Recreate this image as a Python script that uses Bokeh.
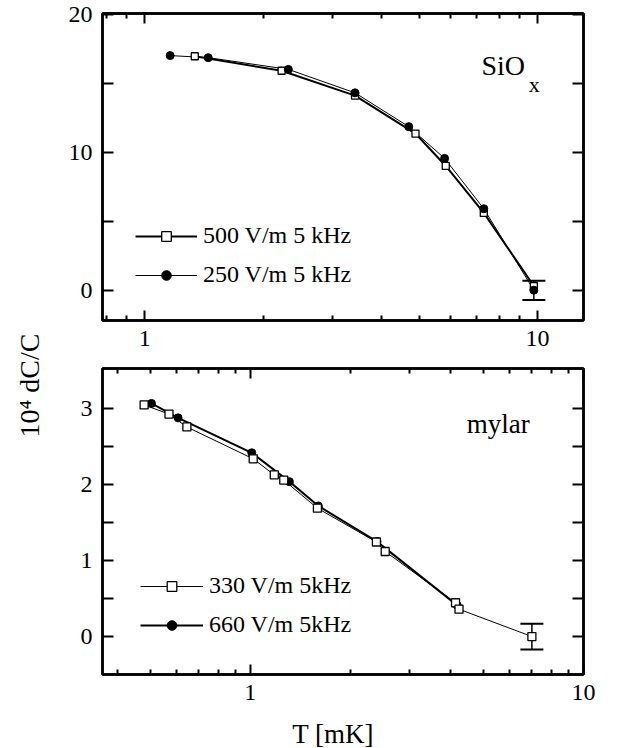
import math
from bokeh.plotting import figure
from bokeh.models import (Range1d, LogAxis, LinearAxis, FixedTicker, CustomJSTickFormatter,
                          Legend, LegendItem, Whisker, TeeHead, ColumnDataSource, Label)
from bokeh.layouts import row, column
from bokeh.embed import file_html
from bokeh.resources import INLINE

# ---------------- data ----------------
# SiOx panel
sio_500_T = [1.34, 2.23, 3.43, 4.89, 5.84, 7.30, 9.79]
sio_500_y = [16.95, 15.9, 14.1, 11.35, 9.0, 5.6, 0.3]
sio_250_T = [1.16, 1.45, 2.32, 3.43, 4.70, 5.80, 7.30, 9.79]
sio_250_y = [17.0, 16.85, 16.0, 14.3, 11.85, 9.55, 5.9, 0.0]
sio_err_T = [9.79]
sio_err_lo = [-0.72]
sio_err_hi = [0.68]

# mylar panel
my_330_T = [0.48, 0.57, 0.645, 1.02, 1.18, 1.26, 1.59, 2.39, 2.54, 4.13, 4.23, 7.0]
my_330_y = [3.05, 2.93, 2.76, 2.34, 2.13, 2.06, 1.69, 1.245, 1.12, 0.445, 0.36, 0.0]
my_660_T = [0.505, 0.607, 1.01, 1.31, 1.60, 2.40, 4.18]
my_660_y = [3.07, 2.88, 2.42, 2.04, 1.72, 1.25, 0.41]
my_err_T = [7.0]
my_err_lo = [-0.17]
my_err_hi = [0.17]

top_yticks = [0, 5, 10, 15, 20]
bot_yticks = [0, 0.5, 1, 1.5, 2, 2.5, 3]
top_xminor = [0.8, 0.9, 2, 3, 4, 5, 6, 7, 8, 9]
bot_xminor = [0.4, 0.5, 0.6, 0.7, 0.8, 0.9, 2, 3, 4, 5, 6, 7, 8, 9]
xmajor = [1, 10]

FONT = "Liberation Serif"
W_LAB = 55
W_FIG = 641 - W_LAB
H_TOP = 360
H_BOT = 352
H_XLAB = 748 - H_TOP - H_BOT


def style_axis(ax, tick_in=11, minor_in=5, labels=True):
    ax.axis_line_width = 2.5
    ax.axis_line_color = "black"
    ax.major_tick_in = tick_in
    ax.major_tick_out = 0
    ax.minor_tick_in = minor_in
    ax.minor_tick_out = 0
    ax.major_tick_line_width = 2
    ax.minor_tick_line_width = 2
    ax.major_tick_line_color = "black"
    ax.minor_tick_line_color = "black"
    if labels:
        ax.major_label_text_font = FONT
        ax.major_label_text_font_size = "24px"
        ax.major_label_text_color = "black"
    else:
        ax.formatter = CustomJSTickFormatter(code="return ''")
        ax.major_label_text_font_size = "1px"
        ax.major_label_standoff = 0


def make_panel(h, xr, yr, yticks, xminor, yfmt_code, bt, bb, xstand):
    p = figure(width=W_FIG, height=h, x_axis_type="log",
               x_range=Range1d(*xr), y_range=Range1d(*yr),
               toolbar_location=None, output_backend="svg",
               min_border_left=47, min_border_right=58,
               min_border_top=bt, min_border_bottom=bb)
    p.grid.visible = False
    p.outline_line_color = "black"
    p.outline_line_width = 2.5
    p.outline_line_alpha = 1.0
    p.background_fill_color = "white"
    p.border_fill_color = "white"

    xt = FixedTicker(ticks=xmajor, minor_ticks=xminor)
    yt = FixedTicker(ticks=yticks, minor_ticks=[])

    xa = p.xaxis[0]
    xa.ticker = xt
    xa.formatter = CustomJSTickFormatter(code="return tick.toFixed(0)")
    style_axis(xa, tick_in=10, minor_in=5)
    xa.major_label_standoff = xstand

    ya = p.yaxis[0]
    ya.ticker = yt
    ya.formatter = CustomJSTickFormatter(code=yfmt_code)
    style_axis(ya, tick_in=11, minor_in=0)
    ya.major_label_standoff = 10

    top = LogAxis(ticker=FixedTicker(ticks=xmajor, minor_ticks=xminor))
    style_axis(top, tick_in=10, minor_in=5, labels=False)
    p.add_layout(top, "above")
    right = LinearAxis(ticker=FixedTicker(ticks=yticks, minor_ticks=[]))
    style_axis(right, tick_in=11, minor_in=0, labels=False)
    p.add_layout(right, "right")
    return p


def text_fig(w, h):
    f = figure(width=w, height=h, x_range=Range1d(0, 1), y_range=Range1d(0, 1),
               toolbar_location=None, output_backend="svg", min_border=0,
               x_axis_location=None, y_axis_location=None)
    f.grid.visible = False
    f.outline_line_color = None
    return f


def make_legend(items, loc, gw, spacing):
    return Legend(items=items, location=loc, glyph_width=gw, glyph_height=24,
                  label_height=24, label_standoff=6, spacing=spacing, padding=0,
                  margin=0, background_fill_alpha=0, border_line_alpha=0,
                  label_text_font=FONT, label_text_font_size="24px",
                  label_text_color="black")


# ---------------- top panel ----------------
p1 = make_panel(H_TOP, (0.78, 13.1), (-2.2, 20.05), top_yticks, top_xminor,
                "return (tick % 10 == 0) ? tick.toFixed(0) : ''", 13, 40, 10)

l500 = p1.line(sio_500_T, sio_500_y, line_color="black", line_width=2)
l250 = p1.line(sio_250_T, sio_250_y, line_color="black", line_width=1)
s500 = p1.scatter(sio_500_T, sio_500_y, marker="square", size=7, fill_color="white",
                  line_color="black", line_width=1.3)
s250 = p1.scatter(sio_250_T, sio_250_y, marker="circle", size=8, fill_color="black",
                  line_color="black")
e1 = ColumnDataSource(dict(x=sio_err_T, lo=sio_err_lo, hi=sio_err_hi))
p1.add_layout(Whisker(source=e1, base="x", lower="lo", upper="hi", line_color="black",
                      line_width=1.5,
                      lower_head=TeeHead(size=23, line_width=2, line_color="black"),
                      upper_head=TeeHead(size=23, line_width=2, line_color="black")))

p1.add_layout(make_legend([LegendItem(label="500 V/m 5 kHz", renderers=[l500, s500]),
                           LegendItem(label="250 V/m 5 kHz", renderers=[l250, s250])],
                          (33, 32), 62, 12))

p1.add_layout(Label(x=7.2, y=16.3, text="SiO", text_font=FONT, text_font_size="28px",
                    text_baseline="alphabetic", text_color="black"))
p1.add_layout(Label(x=9.5, y=14.9, text="x", text_font=FONT, text_font_size="22px",
                    text_baseline="alphabetic", text_color="black"))

# ---------------- bottom panel ----------------
p2 = make_panel(H_BOT, (0.36, 10.0), (-0.5, 3.53), bot_yticks, bot_xminor,
                "return Number.isInteger(tick) ? tick.toFixed(0) : ''", 8, 38, 10)

l330 = p2.line(my_330_T, my_330_y, line_color="black", line_width=1)
l660 = p2.line(my_660_T, my_660_y, line_color="black", line_width=2)
s660 = p2.scatter(my_660_T, my_660_y, marker="circle", size=8, fill_color="black",
                  line_color="black")
s330 = p2.scatter(my_330_T, my_330_y, marker="square", size=8, fill_color="white",
                  line_color="black", line_width=1.3)
e2 = ColumnDataSource(dict(x=my_err_T, lo=my_err_lo, hi=my_err_hi))
p2.add_layout(Whisker(source=e2, base="x", lower="lo", upper="hi", line_color="black",
                      line_width=1.5,
                      lower_head=TeeHead(size=23, line_width=2, line_color="black"),
                      upper_head=TeeHead(size=23, line_width=2, line_color="black")))

p2.add_layout(make_legend([LegendItem(label="330 V/m 5kHz", renderers=[l330, s330]),
                           LegendItem(label="660 V/m 5kHz", renderers=[l660, s660])],
                          (38, 36), 63, 12))

p2.add_layout(Label(x=4.46, y=2.80, text="mylar", text_font=FONT, text_font_size="27px",
                    text_baseline="alphabetic", text_color="black"))

# ---------------- axis titles ----------------
pl = text_fig(W_LAB, 748)
pl.add_layout(Label(x=0.52, y=1 - 385 / 748, text="10\u2074 dC/C", angle=math.pi / 2,
                    text_align="center", text_baseline="middle", text_font=FONT,
                    text_font_size="28px", text_color="black"))

px = text_fig(W_FIG, H_XLAB)
px.add_layout(Label(x=(336 - W_LAB) / W_FIG, y=0.4, text="T [mK]", text_align="center",
                    text_baseline="middle", text_font=FONT, text_font_size="27px",
                    text_color="black"))

layout = row(pl, column(p1, p2, px))
open("out.html", "w").write(file_html(layout, INLINE))
